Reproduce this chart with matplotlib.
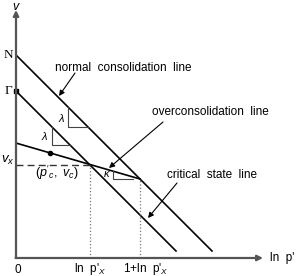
import numpy as np
import matplotlib
matplotlib.use('Agg')
import matplotlib.pyplot as plt

# critical state model parameters
N_val = 4.06        # intercept of normal consolidation line
gamma_val = 3.34    # intercept of critical state line
lam = 1.0           # slope of NCL / CSL
kappa = 0.29        # slope of overconsolidation line
ln_px = 1.48        # ln p'x
ncl_end = 3.92
csl_end = 3.20
ocl_dot = 0.68
x_axis_end = 4.94
y_axis_end = 4.96

tick_pos = [0.0, ln_px, ln_px + 1]
tick_labels = ['0', "ln  p'$_X$", "1+ln  p'$_X$"]

v_kappa = N_val - (lam - kappa) * (ln_px + 1)
v_x = v_kappa - kappa * ln_px

plt.rcParams['font.family'] = ['Liberation Sans', 'DejaVu Sans']
plt.rcParams['mathtext.fontset'] = 'custom'
plt.rcParams['mathtext.it'] = 'Liberation Sans:italic'
plt.rcParams['mathtext.rm'] = 'Liberation Sans'

fig = plt.figure(figsize=(3.0, 2.76), dpi=100)
ax = fig.add_axes([0, 0, 1, 1])
ax.set_xlim(-0.32, 5.68)
ax.set_ylim(-0.36, 5.16)
ax.axis('off')

axis_col = '#555555'
# axes with arrowheads
ax.annotate('', xy=(0, y_axis_end), xytext=(0, 0),
            arrowprops=dict(arrowstyle='-|>', lw=1.6, color=axis_col, mutation_scale=8, shrinkA=0, shrinkB=0))
ax.annotate('', xy=(x_axis_end, 0), xytext=(-0.01, 0),
            arrowprops=dict(arrowstyle='-|>', lw=1.6, color=axis_col, mutation_scale=8, shrinkA=0, shrinkB=0))

# lines
x = np.array([0, ncl_end])
ax.plot(x, N_val - lam * x, color='black', lw=1.2)
x = np.array([0, csl_end])
ax.plot(x, gamma_val - lam * x, color='black', lw=1.2)
x = np.array([0, ln_px + 1])
ax.plot(x, v_kappa - kappa * x, color='black', lw=1.2)

# markers
ax.plot([0], [gamma_val], marker='s', ms=3.5, color='black')
ax.plot([ocl_dot], [v_kappa - kappa * ocl_dot], marker='o', ms=3, color='black')

# guide lines
ax.plot([0, ln_px], [v_x, v_x], ls=(0, (5, 3)), color='#333333', lw=1.0)
ax.plot([ln_px, ln_px], [0, v_x], ls=':', color='#777777', lw=0.9)
ax.plot([ln_px + 1, ln_px + 1], [0, v_kappa - kappa * (ln_px + 1)], ls=':', color='#777777', lw=0.9)

# slope triangles
tri = dict(color='#444444', lw=0.8)
x0, x1 = 1.04, 1.44
ax.plot([x0, x0, x1], [N_val - lam * x0, N_val - lam * x1, N_val - lam * x1], **tri)
x0, x1 = 0.72, 1.08
ax.plot([x0, x0, x1], [gamma_val - lam * x0, gamma_val - lam * x1, gamma_val - lam * x1], **tri)
x0, x1 = 1.94, 2.34
ax.plot([x0, x0, x1], [v_kappa - kappa * x0, 1.59, 1.59], **tri)
ax.text(0.92, 2.80, r'$\lambda$', fontsize=8, ha='center', va='center')
ax.text(0.58, 2.44, r'$\lambda$', fontsize=8, ha='center', va='center')
ax.text(1.83, 1.68, r'$\kappa$', fontsize=8, ha='center', va='center')

# labels with arrows
arr = dict(arrowstyle='-|>', lw=0.8, color='black', mutation_scale=8, shrinkA=0, shrinkB=0)
ax.annotate('', xy=(0.86, 3.24), xytext=(1.18, 3.70), arrowprops=arr)
ax.annotate('', xy=(1.86, 1.80), xytext=(2.94, 2.72), arrowprops=arr)
ax.annotate('', xy=(2.64, 0.80), xytext=(3.22, 1.50), arrowprops=arr)
ax.text(0.78, 3.80, 'normal  consolidation  line', fontsize=8.5, ha='left', va='center')
ax.text(2.72, 2.92, 'overconsolidation  line', fontsize=8.5, ha='left', va='center')
ax.text(3.02, 1.66, 'critical  state  line', fontsize=8.5, ha='left', va='center')

# axis labels and ticks
ax.text(0, 5.15, r'$v$', fontsize=9, ha='center', va='top')
ax.text(-0.16, N_val, 'N', fontsize=9.5, family='Liberation Serif', ha='center', va='center')
ax.text(-0.16, gamma_val, 'Γ', fontsize=9.5, family='Liberation Serif', ha='center', va='center')
ax.text(-0.16, 1.95, r'$v_x$', fontsize=9.5, ha='center', va='center')
ax.text(0.82, 1.70, r"$(p'_{c},\ v_c)$", fontsize=9, ha='center', va='center')
ax.text(5.08, 0.0, "ln  p'", fontsize=8.5, ha='left', va='center')
ax.text(0.04, -0.24, tick_labels[0], fontsize=8.5, ha='center', va='center')
ax.text(tick_pos[1], -0.22, tick_labels[1], fontsize=8.5, ha='center', va='center')
ax.text(tick_pos[2] + 0.12, -0.22, tick_labels[2], fontsize=8.5, ha='center', va='center')

fig.savefig('out.png', dpi=100)
